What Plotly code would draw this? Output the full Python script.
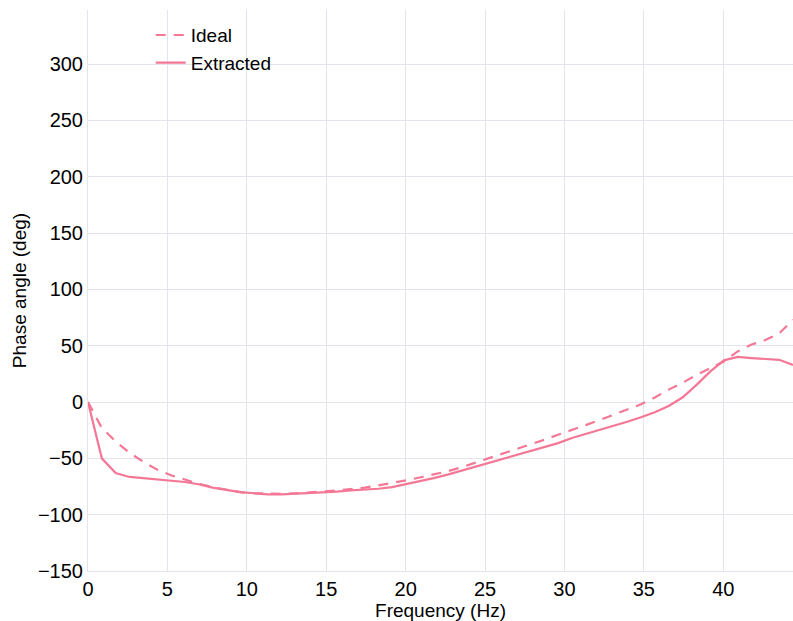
import plotly.graph_objects as go

freq = [0, 0.87, 1.74, 2.61, 3.48, 4.35, 5.22, 6.09, 6.96, 7.84, 8.71, 9.58, 10.45, 11.32,
        12.19, 13.06, 13.93, 14.80, 15.67, 16.54, 17.41, 18.28, 19.15, 20.02, 20.89, 21.76,
        22.64, 23.51, 24.38, 25.25, 26.12, 26.99, 27.86, 28.73, 29.60, 30.47, 31.34, 32.21,
        33.08, 33.95, 34.82, 35.69, 36.56, 37.43, 38.30, 39.17, 40.04, 40.91, 41.78, 42.65,
        43.52, 44.39]

ideal = [0, -23, -35, -45, -53, -60, -65, -69, -72.5, -75.5, -78, -80, -81, -81.5,
         -81.5, -81, -80.5, -79.5, -78.5, -77.5, -76, -74, -72, -69.5, -67, -64.5,
         -61.5, -58, -54, -50, -46, -42, -37.5, -33.5, -29, -25, -20.5, -16,
         -11.5, -6.5, -2, 4, 11, 17, 24, 30, 36, 45, 51, 55,
         61, 73]

extracted = [0, -50, -63, -66.5, -67.5, -68.5, -69.5, -71, -73, -76, -78, -80, -81, -82,
             -82, -81.5, -81, -80, -79.5, -78.5, -78, -77, -75.5, -73, -70.5, -67.5,
             -64.5, -61, -57.5, -54, -50.5, -47, -43.5, -40, -36.5, -32, -28.5, -25,
             -21.5, -17.5, -13.5, -9, -3.5, 4, 15, 27, 37, 40, 39, 38,
             37.5, 33]

color = "#f47896"
grid = "#e4e4ee"
fam = "Liberation Sans, Arial, sans-serif"

fig = go.Figure()
fig.add_trace(go.Scatter(x=freq, y=ideal, mode="lines", name="Ideal",
                         line=dict(color=color, width=2.2, dash="10px,8px")))
fig.add_trace(go.Scatter(x=freq, y=extracted, mode="lines", name="Extracted",
                         line=dict(color=color, width=2.2)))

fig.update_layout(
    width=793, height=621,
    margin=dict(l=88, r=0, t=10, b=50),
    paper_bgcolor="white", plot_bgcolor="white",
    font=dict(family=fam, size=19, color="black"),
    showlegend=True,
    legend=dict(x=0.089, y=0.989, xanchor="left", yanchor="top",
                bgcolor="rgba(0,0,0,0)", font=dict(family=fam, size=19, color="black"),
                tracegroupgap=0),
    xaxis=dict(title=dict(text="Frequency (Hz)", standoff=4,
                          font=dict(family=fam, size=19, color="black")),
               range=[0, 44.39],
               tickvals=[0, 5, 10, 15, 20, 25, 30, 35, 40],
               tickfont=dict(family=fam, size=20, color="black"),
               showgrid=True, gridcolor=grid, zeroline=False,
               showline=True, linecolor=grid, ticks=""),
    yaxis=dict(title=dict(text="Phase angle (deg)", standoff=6,
                          font=dict(family=fam, size=19, color="black")),
               range=[-150, 348],
               tickvals=[-150, -100, -50, 0, 50, 100, 150, 200, 250, 300],
               tickfont=dict(family=fam, size=20, color="black"),
               showgrid=True, gridcolor=grid, zeroline=False,
               showline=True, linecolor=grid, ticks=""),
)

fig.write_html("out.html")
